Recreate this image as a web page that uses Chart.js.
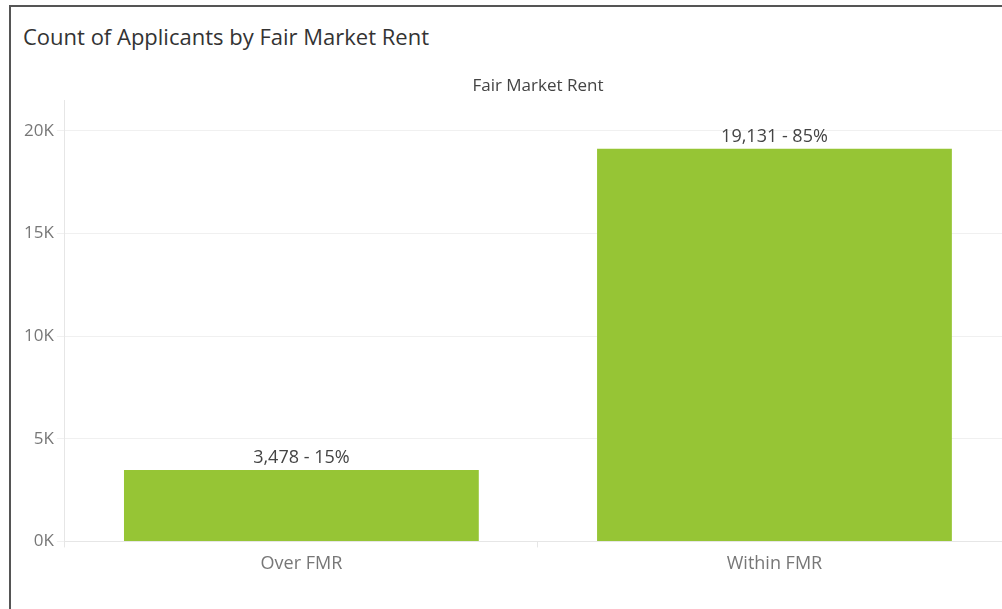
<!DOCTYPE html>
<html>
<head>
<meta charset="utf-8">
<script src="https://cdn.jsdelivr.net/npm/chart.js@4.4.0/dist/chart.umd.min.js"></script>
<style>
  html, body { margin: 0; padding: 0; background: #fff; overflow: hidden; }
  .frame {
    position: absolute; left: 9px; top: 5px; width: 1010px; height: 620px;
    border-left: 2px solid #555; border-top: 2px solid #555;
  }
  .title {
    position: absolute; left: 12px; top: 14px;
    font-family: "Open Sans", sans-serif; font-size: 22px; color: #333;
  }
  .chart-box { position: absolute; left: 0; top: 55px; width: 1000px; height: 549px; }
</style>
</head>
<body>
<div class="frame">
  <div class="title">Count of Applicants by Fair Market Rent</div>
  <div class="chart-box"><canvas id="chartBar"></canvas></div>
</div>
<script>
// datos
const categories = ["Over FMR", "Within FMR"];
const applicants = [3478, 19131];
const shares = ["15%", "85%"];
const yTicks = [0, 5000, 10000, 15000, 20000];

// etiquetas encima de las barras + encabezado
const barLabels = {
  id: "barLabels",
  afterDatasetsDraw(chart) {
    const { ctx, chartArea } = chart;
    ctx.save();
    ctx.font = "18px 'Open Sans', sans-serif";
    ctx.fillStyle = "#444";
    ctx.textAlign = "center";
    ctx.textBaseline = "bottom";
    chart.getDatasetMeta(0).data.forEach((bar, i) => {
      ctx.fillText(applicants[i].toLocaleString("en-US") + " - " + shares[i], bar.x, bar.y - 3);
    });
    ctx.textBaseline = "middle";
    ctx.font = "17px 'Open Sans', sans-serif";
    ctx.fillText("Fair Market Rent", (chartArea.left + chartArea.right) / 2, chartArea.top - 14);
    ctx.restore();
  }
};

new Chart(document.getElementById("chartBar"), {
  type: "bar",
  plugins: [barLabels],
  data: {
    labels: categories,
    datasets: [{
      data: applicants,
      backgroundColor: "#96c535",
      barPercentage: 0.75,
      categoryPercentage: 1
    }]
  },
  options: {
    responsive: true,
    maintainAspectRatio: false,
    animation: false,
    layout: { padding: { left: 10, top: 38, right: 0, bottom: 30 } },
    plugins: { legend: { display: false }, tooltip: { enabled: false } },
    scales: {
      x: {
        offset: true,
        grid: { offset: true, drawOnChartArea: false, color: "#e6e6e6", tickLength: 6 },
        border: { color: "#e6e6e6" },
        ticks: { color: "#777", font: { family: "Open Sans", size: 18 }, padding: 6 }
      },
      y: {
        min: 0,
        max: 21500,
        afterBuildTicks: scale => { scale.ticks = yTicks.map(v => ({ value: v })); },
        grid: { color: "#f0f0f0", tickLength: 8 },
        border: { color: "#e6e6e6" },
        ticks: {
          color: "#777",
          font: { family: "Open Sans", size: 17 },
          padding: 3,
          callback: v => (v / 1000) + "K"
        }
      }
    }
  }
});
</script>
</body>
</html>
